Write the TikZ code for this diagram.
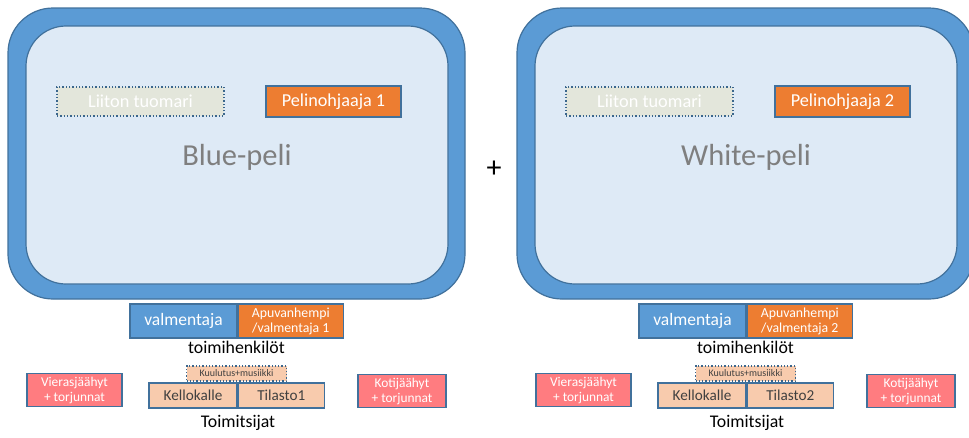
\documentclass[tikz,border=0pt]{standalone}
\usepackage{fontspec}
\setmainfont{Carlito}
\usepackage{tikz}
\usetikzlibrary{positioning}
\definecolor{rinkblue}{HTML}{5B9BD5}
\definecolor{rinkline}{HTML}{41719C}
\definecolor{ice}{HTML}{DEEAF6}
\definecolor{tuomarifill}{HTML}{E3E6DB}
\definecolor{ohjaajafill}{HTML}{ED7D31}
\definecolor{peach}{HTML}{F8CBAD}
\definecolor{jaahyfill}{HTML}{FF7C80}
\definecolor{peligray}{HTML}{7F7F7F}
\definecolor{darktext}{HTML}{404040}
\newcommand{\fsz}[2]{\fontsize{#1}{#2}\selectfont}
\tikzset{
    rinkout/.style={fill=rinkblue, draw=rinkline, line width=1.2pt, rounded corners=45pt},
    rinkin/.style={fill=ice, draw=rinkline, line width=1.2pt, rounded corners=40pt},
    boxbase/.style={inner sep=0pt, draw=rinkline, line width=1.3pt, align=center},
    tuomari/.style={boxbase, fill=tuomarifill, draw=rinkline!90!black, dotted, line width=1.6pt,
        text=white, font=\fsz{18.3}{20}, minimum width=167pt, minimum height=29pt},
    ohjaaja/.style={boxbase, fill=ohjaajafill, text=white, font=\fsz{18.2}{20},
        minimum width=135pt, minimum height=31pt},
    pelitext/.style={text=peligray, font=\fsz{30.5}{34}},
    valm/.style={boxbase, fill=rinkblue, text=white, font=\fsz{17.5}{19},
        minimum width=107pt, minimum height=34pt},
    apu/.style={boxbase, fill=ohjaajafill, text=white, font=\fsz{13.8}{15},
        minimum width=105pt, minimum height=34pt},
    kuulutus/.style={boxbase, fill=peach, draw=rinkline!90!black, dotted, line width=1.6pt,
        text=darktext, font=\fsz{10}{11}, minimum width=100pt, minimum height=15pt},
    toimbox/.style={boxbase, fill=peach, text=darktext, font=\fsz{15.2}{16},
        minimum height=25pt},
    jaahy/.style={boxbase, fill=jaahyfill, text=white, font=\fsz{13.4}{15},
        minimum width=92pt, minimum height=33pt},
    caption/.style={text=black, font=\fsz{17.8}{19}, inner sep=0pt}
}

\begin{document}
\begin{tikzpicture}[x=1pt, y=-1pt]
    \useasboundingbox (0,0) rectangle (969,437);
    \clip (0,0) rectangle (969,437);
    % two rinks, side by side
    \foreach \dx/\peli/\n in {0/Blue/1, 509/White/2}{
        \begin{scope}[xshift=\dx]
            \draw[rinkout] (8,8) rectangle (465,299);
            \draw[rinkin] (26,26) rectangle (448,284);
            \node[tuomari] (tuomari\n) at (140.5,101.5) {Liiton tuomari};
            \node[ohjaaja] (ohjaaja\n) at (333.5,101.5) {Pelinohjaaja \n};
            \node[pelitext] (peli\n) at (237,157) {\peli-peli};
            % toimihenkilot
            \node[valm] (valm\n) at (183.5,321) {valmentaja};
            \node[apu, right=0pt of valm\n] (apu\n) {Apuvanhempi\\/valmentaja \n};
            \node[caption] (toimi\n) at (236.5,347) {toimihenkilöt};
            % toimitsijat
            \node[toimbox, minimum width=88pt] (kello\n) at (193,395.5) {Kellokalle};
            \node[toimbox, minimum width=86pt, right=0pt of kello\n] (tilasto\n) {Tilasto\n};
            \node[kuulutus] (kuulutus\n) at (236.5,373.5) {Kuulutus+musiikki};
            \node[caption] (toimitsijat\n) at (238,423) {Toimitsijat};
            \node[jaahy, minimum width=95pt] (vieras\n) at (74.5,390) {Vierasjäähyt\\+ torjunnat};
            \node[jaahy, minimum width=88pt] (koti\n) at (402,391) {Kotijäähyt\\+ torjunnat};
        \end{scope}
    }
    \node[font=\fsz{30}{32}, inner sep=0pt] (plus) at (494,169) {+};
\end{tikzpicture}
\end{document}
